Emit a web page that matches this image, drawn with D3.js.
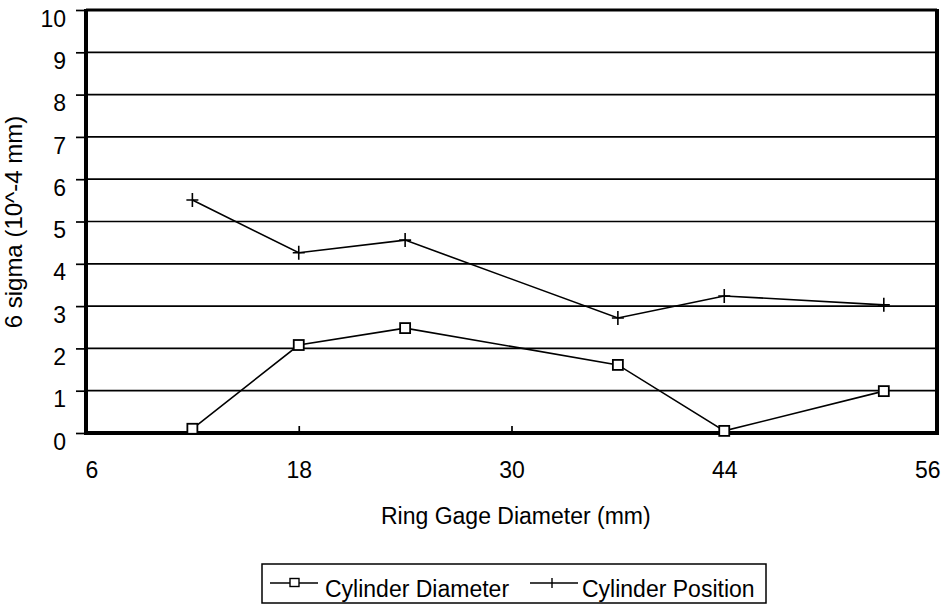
<!DOCTYPE html>
<html>
<head>
<meta charset="utf-8">
<script src="https://cdn.jsdelivr.net/npm/d3@7"></script>
<style>
  body { margin: 0; background: #fff; }
  text { font-family: "Liberation Sans", Arial, sans-serif; fill: #000; }
</style>
</head>
<body>
<div id="chart"></div>
<script>
// x tick labels sit at even spacing even though values are not evenly spaced
const xTicks = [6, 18, 30, 44, 56]
const yTicks = [0, 1, 2, 3, 4, 5, 6, 7, 8, 9, 10]
const ringGage = [12, 18, 24, 37, 44, 53]
const cylDiameter = [0.1, 2.08, 2.48, 1.61, 0.05, 0.99]
const cylPosition = [5.51, 4.26, 4.56, 2.72, 3.24, 3.03]
const seriesNames = ['Cylinder Diameter', 'Cylinder Position']

const W = 948, H = 604
const pLeft = 86, pRight = 937, pTop = 10, pBottom = 433
const fs = '23px'

const svg = d3.select('#chart').append('svg')
  .attr('width', W)
  .attr('height', H)

const x = d3.scaleLinear()
  .domain(xTicks)
  .range(xTicks.map((d, i) => pLeft + i * (pRight - pLeft) / (xTicks.length - 1)))
const y = d3.scaleLinear().domain([0, 10]).range([pBottom, pTop])

// gridlines
svg.append('g')
  .selectAll('line')
  .data(yTicks.slice(1, -1))
  .join('line')
  .attr('x1', pLeft).attr('x2', pRight)
  .attr('y1', d => y(d)).attr('y2', d => y(d))
  .attr('stroke', '#000').attr('stroke-width', 1.7)

// y axis: ticks outside, labels hang just below each tick
const yAxis = svg.append('g')
  .attr('transform', `translate(${pLeft},0)`)
  .call(d3.axisLeft(y).tickValues(yTicks).tickSize(10).tickPadding(10).tickFormat(d3.format('d')))
yAxis.select('.domain').remove()
yAxis.selectAll('line').attr('stroke-width', 1.7)
yAxis.selectAll('text')
  .attr('dy', '0.7em')
  .style('font-size', fs).style('font-family', '"Liberation Sans", Arial, sans-serif')

// x axis: small inner ticks, labels below
const xAxis = svg.append('g')
  .attr('transform', `translate(0,${pBottom})`)
  .call(d3.axisBottom(x).tickValues(xTicks).tickSize(-7).tickPadding(29).tickFormat(d3.format('d')))
xAxis.select('.domain').remove()
xAxis.selectAll('line').attr('stroke-width', 1.7)
xAxis.selectAll('text')
  .style('font-size', fs).style('font-family', '"Liberation Sans", Arial, sans-serif')
// first and last labels are pulled inside the plot edges
xAxis.selectAll('text').filter(d => d === xTicks[0]).attr('text-anchor', 'start').attr('x', -1)
xAxis.selectAll('text').filter(d => d === xTicks[xTicks.length - 1]).attr('text-anchor', 'end').attr('x', 3)

// frame
svg.append('line').attr('x1', pLeft).attr('x2', pRight).attr('y1', pTop).attr('y2', pTop)
  .attr('stroke', '#000').attr('stroke-width', 3)
svg.append('line').attr('x1', pLeft).attr('x2', pLeft).attr('y1', pTop - 1).attr('y2', pBottom + 2)
  .attr('stroke', '#000').attr('stroke-width', 4)
svg.append('line').attr('x1', pRight).attr('x2', pRight).attr('y1', pTop - 1).attr('y2', pBottom + 2)
  .attr('stroke', '#000').attr('stroke-width', 4)
svg.append('line').attr('x1', pLeft - 2).attr('x2', pRight + 2).attr('y1', pBottom).attr('y2', pBottom)
  .attr('stroke', '#000').attr('stroke-width', 4)

const line = d3.line()
  .x(d => x(d[0]))
  .y(d => y(d[1]))

const diaPts = ringGage.map((g, i) => [g, cylDiameter[i]])
const posPts = ringGage.map((g, i) => [g, cylPosition[i]])

svg.append('path').attr('d', line(diaPts))
  .attr('fill', 'none').attr('stroke', '#000').attr('stroke-width', 1.6)
svg.append('path').attr('d', line(posPts))
  .attr('fill', 'none').attr('stroke', '#000').attr('stroke-width', 1.6)

svg.append('g').selectAll('rect')
  .data(diaPts)
  .join('rect')
  .attr('x', d => x(d[0]) - 5).attr('y', d => y(d[1]) - 5)
  .attr('width', 10).attr('height', 10)
  .attr('fill', '#fff').attr('stroke', '#000').attr('stroke-width', 1.8)

const plus = (cx, cy, s) => `M${cx - s},${cy}H${cx + s}M${cx},${cy - s - 1}V${cy + s + 1}`
svg.append('g').selectAll('path')
  .data(posPts)
  .join('path')
  .attr('d', d => plus(x(d[0]), y(d[1]), 6))
  .attr('fill', 'none').attr('stroke', '#000').attr('stroke-width', 1.6)

// axis titles
svg.append('text')
  .attr('x', 381).attr('y', 524)
  .style('font-size', fs)
  .text('Ring Gage Diameter (mm)')
svg.append('text')
  .attr('transform', `translate(22,222) rotate(-90)`)
  .attr('text-anchor', 'middle').style('font-size', '24px')
  .text('6 sigma (10^-4 mm)')

// legend
const lg = svg.append('g')
lg.append('rect').attr('x', 262).attr('y', 564).attr('width', 504).attr('height', 39)
  .attr('fill', '#fff').attr('stroke', '#000').attr('stroke-width', 1.5)
const lgY = 583
lg.append('line').attr('x1', 270).attr('x2', 318).attr('y1', lgY).attr('y2', lgY)
  .attr('stroke', '#000').attr('stroke-width', 1.5)
lg.append('rect').attr('x', 290).attr('y', lgY - 4.5).attr('width', 9).attr('height', 8)
  .attr('fill', '#fff').attr('stroke', '#000').attr('stroke-width', 1.4)
lg.append('text').attr('x', 325).attr('y', 597).style('font-size', fs).text(seriesNames[0])
lg.append('line').attr('x1', 530).attr('x2', 578).attr('y1', lgY).attr('y2', lgY)
  .attr('stroke', '#000').attr('stroke-width', 1.5)
lg.append('path').attr('d', `M552,${lgY - 5}V${lgY + 5}`)
  .attr('stroke', '#000').attr('stroke-width', 1.4)
lg.append('text').attr('x', 582).attr('y', 597).style('font-size', fs).text(seriesNames[1])
</script>
</body>
</html>
